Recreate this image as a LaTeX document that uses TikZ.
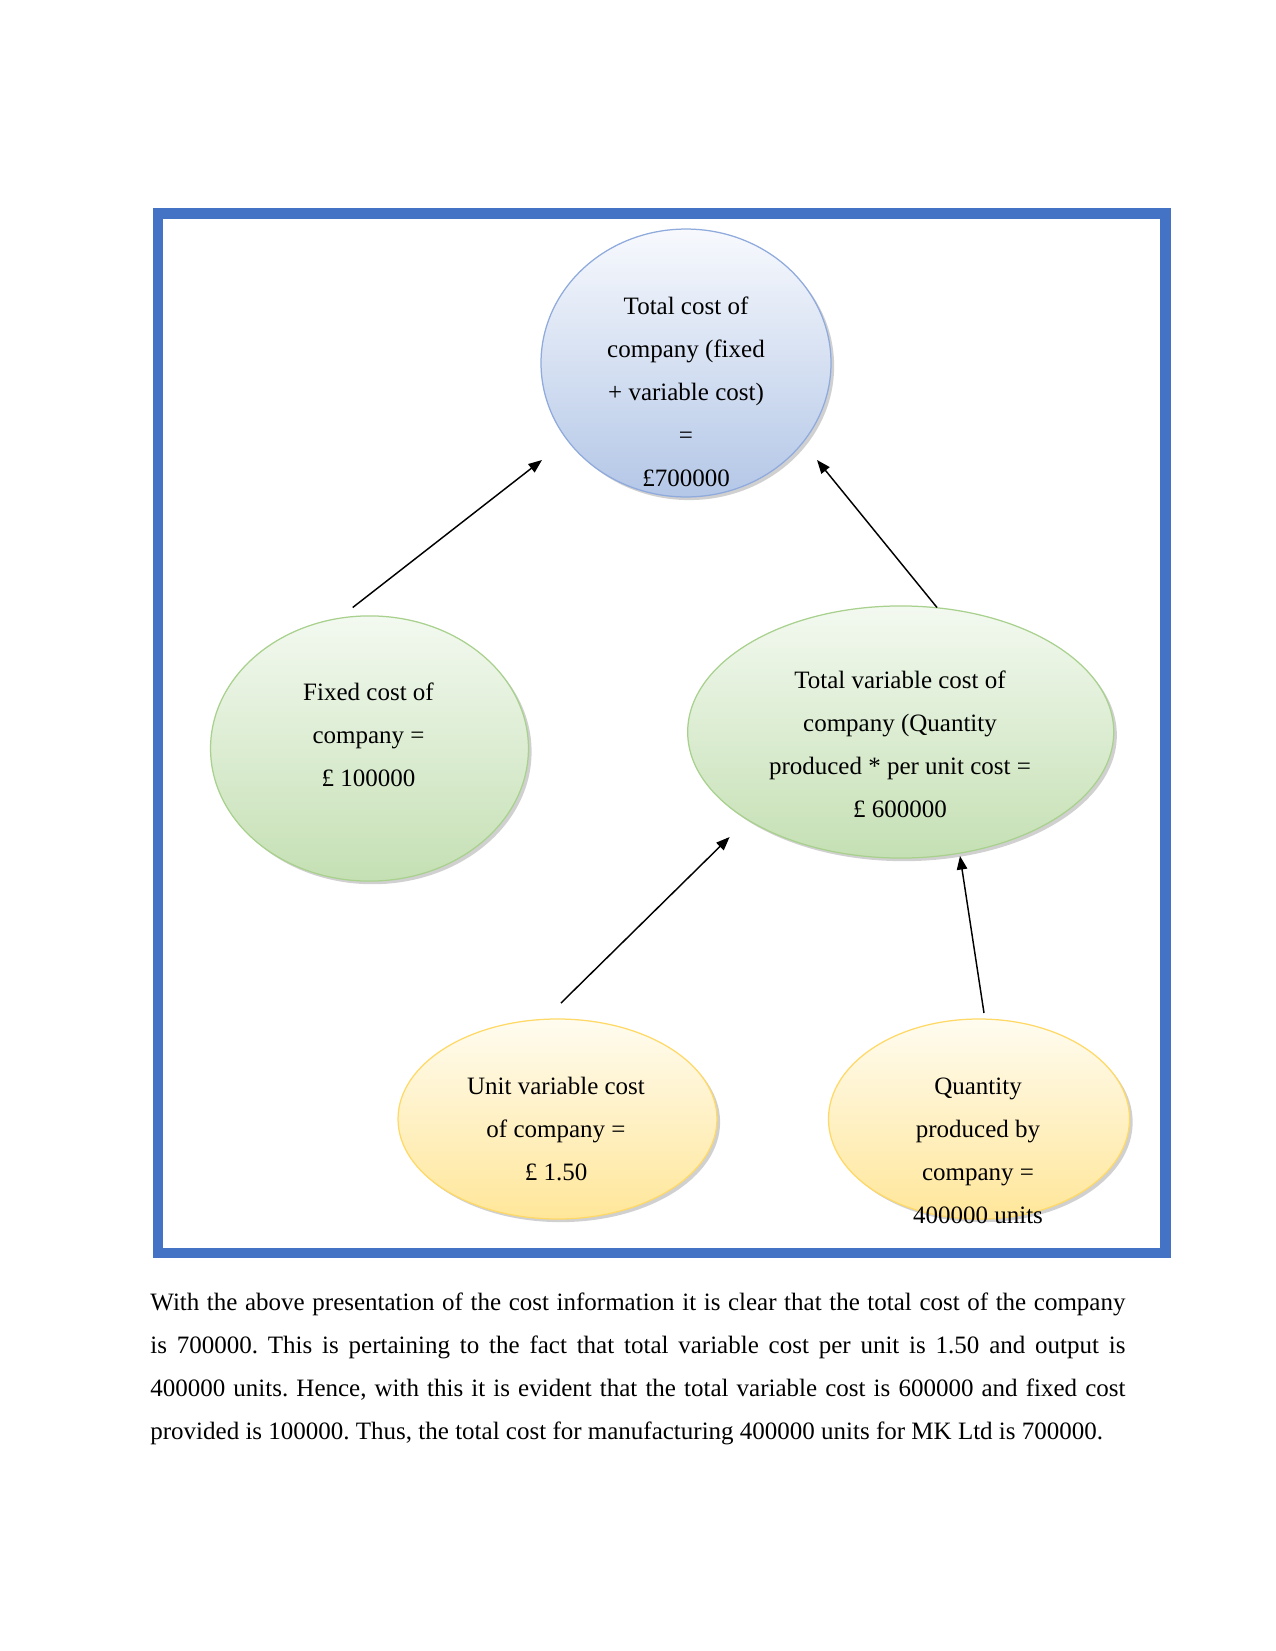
\documentclass[tikz,border=0pt]{standalone}
\usepackage{fontspec}
\setmainfont{Liberation Serif}
\usetikzlibrary{shapes.geometric,arrows.meta,shadows}
\definecolor{framecol}{HTML}{4472C4}
\definecolor{bluetop}{HTML}{F7F9FD}
\definecolor{bluebot}{HTML}{B4C7E7}
\definecolor{blueline}{HTML}{8FAADC}
\definecolor{greentop}{HTML}{F3F9F0}
\definecolor{greenbot}{HTML}{C5E0B4}
\definecolor{greenline}{HTML}{A9D18E}
\definecolor{yellowtop}{HTML}{FFFCF0}
\definecolor{yellowbot}{HTML}{FFE699}
\definecolor{yellowline}{HTML}{FFD966}
\begin{document}
\begin{tikzpicture}[x=0.48pt,y=-0.48pt,
  bubble/.style={ellipse, inner sep=0pt, outer sep=0pt, line width=0.6pt,
    drop shadow={shadow xshift=1.5pt, shadow yshift=-1.5pt, opacity=0.3, fill=black!60}},
  bluebubble/.style={bubble, draw=blueline, top color=bluetop, bottom color=bluebot},
  greenbubble/.style={bubble, draw=greenline, top color=greentop, bottom color=greenbot},
  yellowbubble/.style={bubble, draw=yellowline, top color=yellowtop, bottom color=yellowbot},
  label/.style={align=center, inner sep=0pt, font=\fontsize{12}{20.64}\selectfont, text=black},
  link/.style={line width=0.7pt, -{Triangle[length=6.5pt,width=5pt]}}
]
\useasboundingbox[fill=white] (0,0) rectangle (1275,1651);
% frame
\draw[framecol, line width=4.9pt] (158,213.5) rectangle (1165.5,1253);
% ellipses
\node[bluebubble, minimum width=139.2pt, minimum height=128.6pt] (total) at (686,363) {};
\node[greenbubble, minimum width=152.6pt, minimum height=127.3pt] (fixed) at (369.5,748.5) {};
\node[greenbubble, minimum width=204.5pt, minimum height=121pt] (tvc) at (900.7,732) {};
\node[yellowbubble, minimum width=153.1pt, minimum height=96pt] (unit) at (557.5,1119) {};
\node[yellowbubble, minimum width=144.5pt, minimum height=96pt] (qty) at (979,1119) {};
% texts
\node[label] (totaltxt) at (686,391.4) {Total cost of\\company (fixed\\+ variable cost)\\=\\£700000};
\node[label] (fixedtxt) at (368.5,734.9) {Fixed cost of\\company =\\£ 100000};
\node[label] (tvctxt) at (900,744.6) {Total variable cost of\\company (Quantity\\produced * per unit cost =\\£ 600000};
\node[label] (unittxt) at (556,1128.6) {Unit variable cost\\of company =\\£ 1.50};
\node[label] (qtytxt) at (978,1150.4) {Quantity\\produced by\\company =\\400000 units};
% arrow end points
\coordinate (a1s) at (352.7,607.5);
\coordinate (a1e) at (542,460);
\coordinate (a2s) at (937,607.5);
\coordinate (a2e) at (817,460);
\coordinate (a3s) at (561,1003);
\coordinate (a3e) at (729.6,837);
\coordinate (a4s) at (984,1013);
\coordinate (a4e) at (960,856);
\draw[link] (a1s) -- (a1e);
\draw[link] (a2s) -- (a2e);
\draw[link] (a3s) -- (a3e);
\draw[link] (a4s) -- (a4e);
% paragraph
\node[anchor=north west, inner sep=0pt, text width=468pt, align=justify,
  font=\fontsize{12}{20.64}\selectfont] (para) at (150,1292)
  {\hyphenpenalty=10000 \frenchspacing With the above presentation of the cost information it is clear that the total cost of the company\linebreak is 700000. This is pertaining to the fact that total variable cost per unit is 1.50 and output is\linebreak 400000 units. Hence, with this it is evident that the total variable cost is 600000 and fixed cost\linebreak provided is 100000. Thus, the total cost for manufacturing 400000 units for MK Ltd is 700000.};
\end{tikzpicture}
\end{document}
